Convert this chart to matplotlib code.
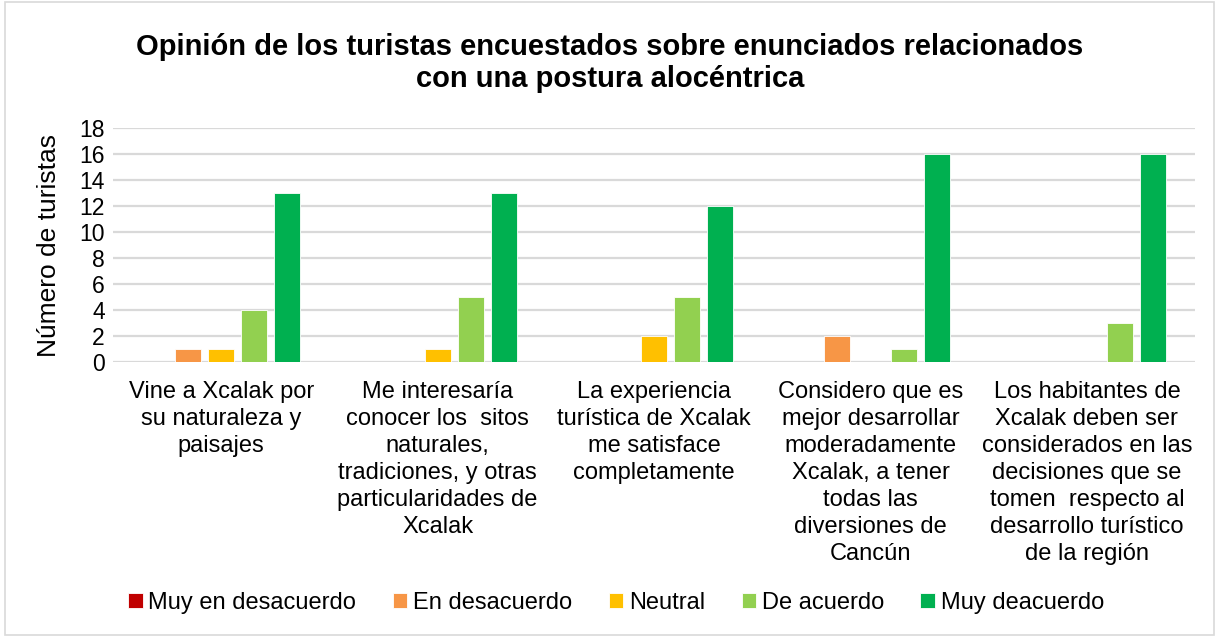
import matplotlib.pyplot as plt
import matplotlib.patches as mpatches
import numpy as np

plt.rcParams['font.family'] = ['Liberation Sans', 'DejaVu Sans']

categories = [
    "Vine a Xcalak por\nsu naturaleza y\npaisajes",
    "Me interesaría\nconocer los  sitos\nnaturales,\ntradiciones, y otras\nparticularidades de\nXcalak",
    "La experiencia\nturística de Xcalak\nme satisface\ncompletamente",
    "Considero que es\nmejor desarrollar\nmoderadamente\nXcalak, a tener\ntodas las\ndiversiones de\nCancún",
    "Los habitantes de\nXcalak deben ser\nconsiderados en las\ndecisiones que se\ntomen  respecto al\ndesarrollo turístico\nde la región",
]
series_names = ["Muy en desacuerdo", "En desacuerdo", "Neutral", "De acuerdo", "Muy deacuerdo"]
muy_desacuerdo = [0, 0, 0, 0, 0]
desacuerdo = [1, 0, 0, 2, 0]
neutral = [1, 1, 2, 0, 0]
de_acuerdo = [4, 5, 5, 1, 3]
muy_deacuerdo = [13, 13, 12, 16, 16]
yticks = list(range(0, 19, 2))

colors = ["#C00000", "#F79646", "#FFC000", "#92D050", "#00B050"]
values = [muy_desacuerdo, desacuerdo, neutral, de_acuerdo, muy_deacuerdo]

fig = plt.figure(figsize=(12.2, 6.37), dpi=100)
ax = fig.add_axes([0.0926, 0.4317, 0.887, 0.3673])

x = np.arange(len(categories))
step = 0.153
width = 0.12
for i, (name, vals, c) in enumerate(zip(series_names, values, colors)):
    ax.bar(x + (i - 2) * step, vals, width=width, color=c, label=name,
           edgecolor="white", linewidth=0.6, zorder=3)

ax.set_xlim(-0.5, len(categories) - 0.5)
ax.set_ylim(0, 18)
ax.set_yticks(yticks)
ax.set_yticklabels([str(t) for t in yticks], fontsize=16.5)
ax.set_xticks(x)
ax.set_xticklabels(categories, fontsize=17, linespacing=1.29)
ax.tick_params(axis="both", length=0)
ax.tick_params(axis="x", pad=14)
ax.tick_params(axis="y", pad=6)
ax.grid(axis="y", color="#D9D9D9", linewidth=1.6, zorder=0)
for s in ax.spines.values():
    s.set_visible(False)

ax.set_ylabel("Número de turistas", fontsize=19, labelpad=13)

fig.text(0.5, 1 - 63 / 637, "Opinión de los turistas encuestados sobre enunciados relacionados\ncon una postura alocéntrica",
         ha="center", va="center", fontsize=21, fontweight="bold", linespacing=1.2)

fig.legend(loc="center", bbox_to_anchor=(0.505, 1 - 603 / 637), ncol=5, frameon=False,
           fontsize=17, handlelength=0.6, handleheight=0.6, handletextpad=0.25,
           columnspacing=1.55)

fig.patches.append(mpatches.Rectangle((0.004, 0.003), 0.991, 0.994, transform=fig.transFigure,
                                      fill=False, edgecolor="#D9D9D9", linewidth=1.2))

fig.savefig("out.png", dpi=100)
